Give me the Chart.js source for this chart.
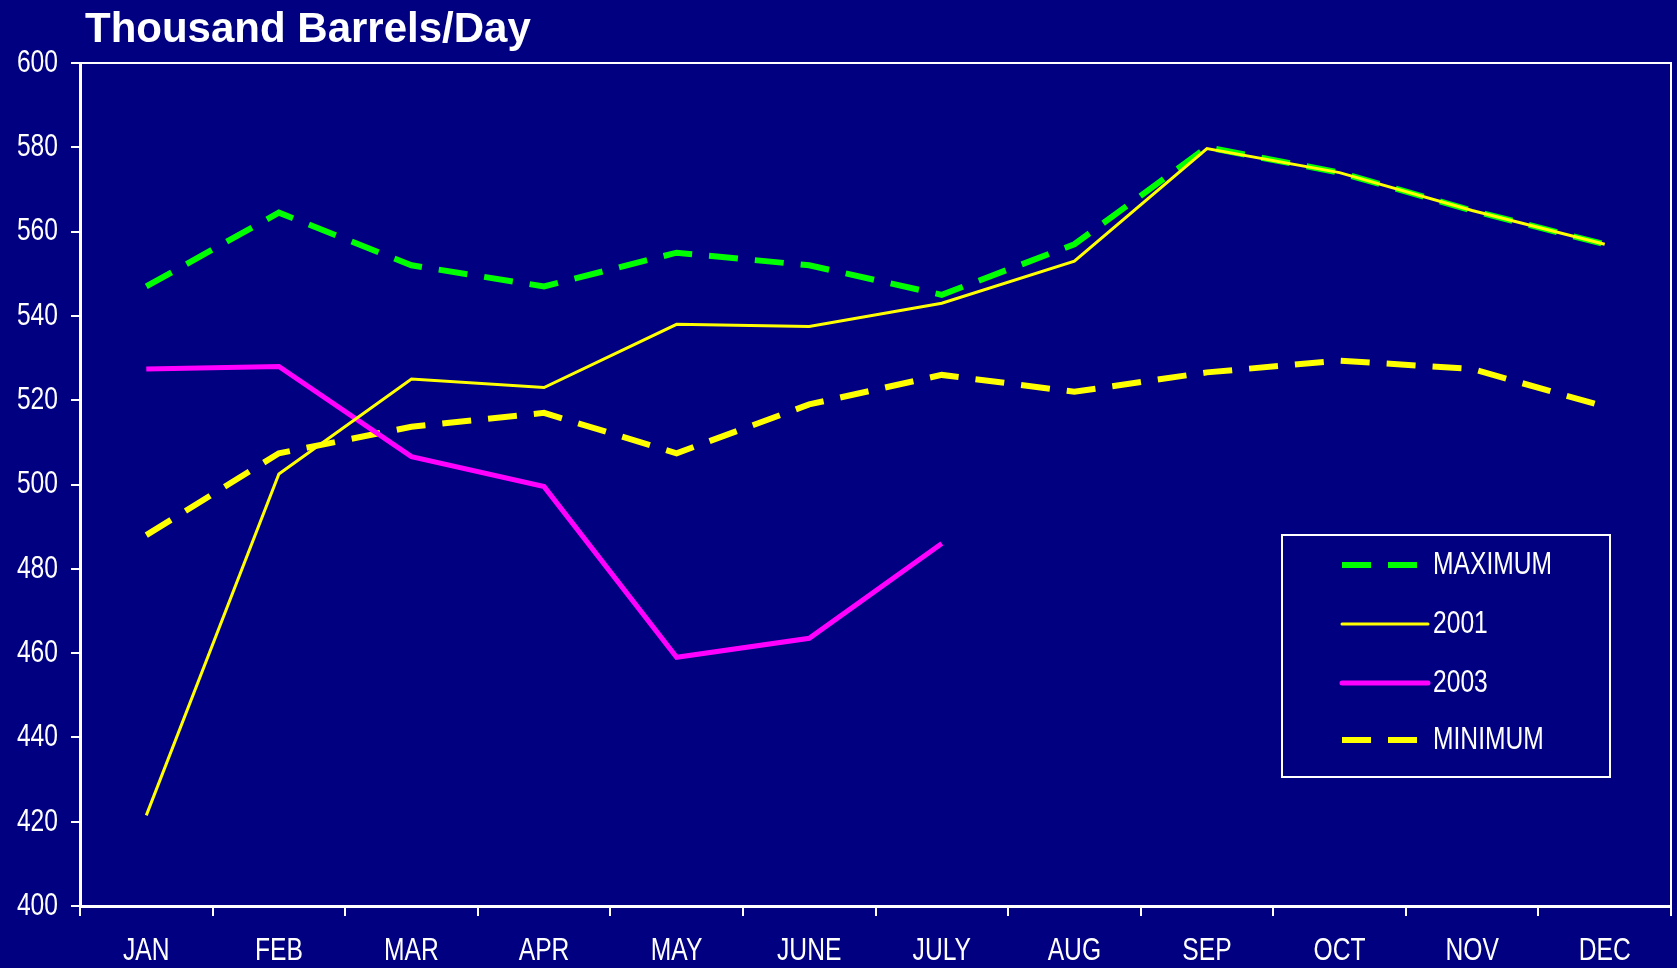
<!DOCTYPE html>
<html>
<head>
<meta charset="utf-8">
<script src="https://cdn.jsdelivr.net/npm/chart.js@4.4.1/dist/chart.umd.min.js"></script>
<style>
  html, body { margin: 0; padding: 0; background: #000080; }
  canvas { display: block; }
</style>
</head>
<body>
<canvas id="myChart" width="1677" height="968"></canvas>
<script>
const months = ["JAN", "FEB", "MAR", "APR", "MAY", "JUNE", "JULY", "AUG", "SEP", "OCT", "NOV", "DEC"];
const maximum = [547, 564.5, 552, 547, 555, 552, 545, 557, 580, 574, 565, 557];
const y2001 = [421.5, 502.5, 525, 523, 538, 537.5, 543, 553, 579.7, 574, 565, 557];
const y2003 = [527.4, 528, 506.6, 499.5, 459, 463.5, 486, null, null, null, null, null];
const minimum = [488, 507.4, 513.7, 517, 507.4, 519, 526, 522, 526.6, 529.4, 527.4, 518.5];
const yTicks = [400, 420, 440, 460, 480, 500, 520, 540, 560, 580, 600];

// no narrow font installed, so squeeze Liberation Sans sideways
const narrowFont = "32px 'Liberation Sans', Arial, sans-serif";
const squeeze = 0.77;

function narrowText(c, text, x, y, align) {
  c.save();
  c.translate(x, y);
  c.scale(squeeze, 1);
  c.font = narrowFont;
  c.fillStyle = "#ffffff";
  c.textAlign = align;
  c.textBaseline = "middle";
  c.fillText(text, 0, 0);
  c.restore();
}

// frame around plot, title, tick labels and the boxed legend
const extras = {
  id: "extras",
  afterDraw(chart) {
    const c = chart.ctx;
    const a = chart.chartArea;
    c.save();
    c.strokeStyle = "#ffffff";
    c.lineWidth = 2;
    c.beginPath();
    c.moveTo(a.left, a.top);
    c.lineTo(a.right, a.top);
    c.lineTo(a.right, a.bottom);
    c.stroke();

    c.fillStyle = "#ffffff";
    c.font = "bold 42px 'Liberation Sans', Arial, sans-serif";
    c.textBaseline = "alphabetic";
    c.textAlign = "left";
    c.fillText("Thousand Barrels/Day", 85, 42);

    const ys = chart.scales.y;
    ys.ticks.forEach((t) => {
      narrowText(c, String(t.value), 58, ys.getPixelForValue(t.value), "right");
    });
    const xs = chart.scales.x;
    months.forEach((m, i) => {
      narrowText(c, m, xs.getPixelForValue(i), 951, "center");
    });

    // legend
    c.strokeRect(1282, 535, 328, 242);
    const rows = [565, 624, 683, 740];
    [0, 1, 2, 3].forEach((di, i) => {
      const ds = chart.data.datasets[di];
      const y = rows[i];
      c.save();
      c.strokeStyle = ds.borderColor;
      c.lineWidth = ds.borderWidth;
      c.lineCap = ds.borderDash.length ? "butt" : "round";
      c.setLineDash(ds.borderDash);
      c.beginPath();
      c.moveTo(1342, y);
      c.lineTo(1428, y);
      c.stroke();
      c.restore();
      narrowText(c, ds.label, 1433, y, "left");
    });
    c.restore();
  }
};

new Chart(document.getElementById("myChart"), {
  type: "line",
  data: {
    labels: months,
    datasets: [
      { label: "MAXIMUM", data: maximum, borderColor: "#00ff00", borderWidth: 6, borderDash: [29, 17], order: 3 },
      { label: "2001", data: y2001, borderColor: "#ffff00", borderWidth: 3, borderDash: [], order: 0 },
      { label: "2003", data: y2003, borderColor: "#ff00ff", borderWidth: 5, borderDash: [], order: 1 },
      { label: "MINIMUM", data: minimum, borderColor: "#ffff00", borderWidth: 6, borderDash: [29, 17], order: 2 },
    ],
  },
  options: {
    responsive: false,
    animation: false,
    spanGaps: false,
    elements: {
      point: { radius: 0 },
      line: { tension: 0, fill: false },
    },
    layout: { padding: { top: 63, right: 6, left: 0, bottom: 0 } },
    scales: {
      x: {
        offset: true,
        grid: { offset: true, drawOnChartArea: false, drawTicks: true, tickLength: 10, color: "#ffffff", lineWidth: 2 },
        border: { display: true, color: "#ffffff", width: 3 },
        ticks: { color: "rgba(0,0,0,0)", font: { size: 29 }, padding: 18, maxRotation: 0, autoSkip: false },
        afterFit(scale) { scale.height = 62; },
      },
      y: {
        min: 400,
        max: 600,
        afterBuildTicks(scale) { scale.ticks = yTicks.map((v) => ({ value: v })); },
        grid: { drawOnChartArea: false, drawTicks: true, tickLength: 9, color: "#ffffff", lineWidth: 2 },
        border: { display: true, color: "#ffffff", width: 3 },
        ticks: { color: "rgba(0,0,0,0)", font: { size: 29 }, padding: 12 },
        afterFit(scale) { scale.width = 80; },
      },
    },
    plugins: {
      legend: { display: false },
      title: { display: false },
      tooltip: { enabled: false },
    },
  },
  plugins: [extras],
});
</script>
</body>
</html>
